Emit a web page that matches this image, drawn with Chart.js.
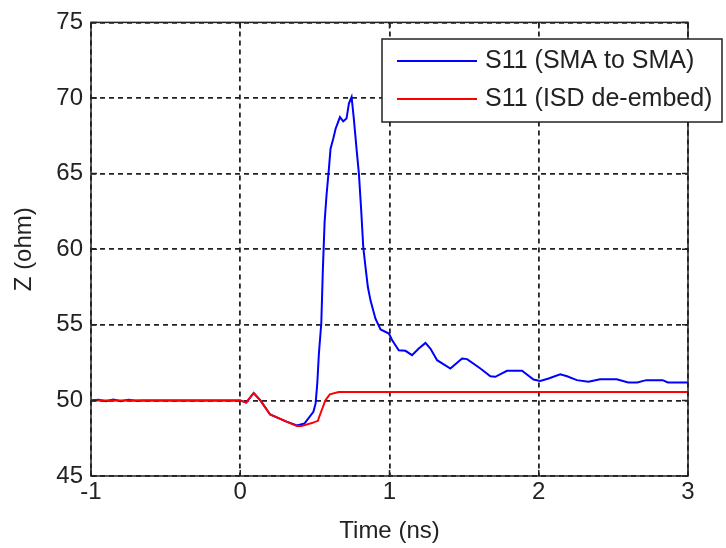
<!DOCTYPE html>
<html>
<head>
<meta charset="utf-8">
<script src="https://cdn.jsdelivr.net/npm/chart.js@4/dist/chart.umd.min.js"></script>
<style>
  html, body { margin: 0; padding: 0; background: #fff; }
  canvas { display: block; }
</style>
</head>
<body>
<canvas id="tdr" width="726" height="548"></canvas>
<script>
// TDR impedance profile, time in ns, Z in ohm
const tSma = [-1, -0.95, -0.9, -0.85, -0.8, -0.75, -0.7, -0.65, 0, 0.04, 0.09, 0.135, 0.2, 0.31, 0.38, 0.43,
  0.49, 0.505, 0.516, 0.527, 0.543, 0.553, 0.565, 0.578, 0.594, 0.605, 0.623, 0.639, 0.668, 0.69, 0.712,
  0.728, 0.746, 0.761, 0.779, 0.795, 0.811, 0.824, 0.839, 0.855, 0.873, 0.906, 0.94, 0.996, 1.018, 1.062,
  1.107, 1.151, 1.196, 1.241, 1.274, 1.319, 1.408, 1.486, 1.52, 1.609, 1.676, 1.709, 1.787, 1.888, 1.965,
  2.01, 2.066, 2.144, 2.19, 2.255, 2.333, 2.411, 2.522, 2.6, 2.66, 2.72, 2.83, 2.865, 3.0];
const zSma = [50.0, 50.05, 49.95, 50.05, 49.95, 50.05, 49.97, 50.0, 50.0, 49.85, 50.49, 50.0, 49.07, 48.6, 48.35, 48.47,
  49.25, 49.8, 51.1, 53.1, 55.1, 58.5, 61.76, 63.57, 65.33, 66.65, 67.31, 67.97, 68.74, 68.46, 68.64,
  69.63, 70.06, 68.64, 66.65, 65.0, 62.46, 60.15, 58.83, 57.5, 56.6, 55.4, 54.69, 54.42, 53.98, 53.32,
  53.28, 52.99, 53.43, 53.8, 53.43, 52.66, 52.11, 52.77, 52.73, 52.11, 51.6, 51.56, 51.96, 51.96, 51.38,
  51.29, 51.45, 51.72, 51.6, 51.34, 51.23, 51.4, 51.4, 51.19, 51.19, 51.34, 51.34, 51.19, 51.19];

const tIsd = [-1, 0, 0.04, 0.09, 0.135, 0.2, 0.31, 0.38, 0.41, 0.48, 0.52, 0.54, 0.57, 0.6, 0.66, 3.0];
const zIsd = [50.0, 50.0, 49.85, 50.49, 50.0, 49.07, 48.6, 48.3, 48.3, 48.5, 48.65, 49.2, 50.0, 50.4, 50.55, 50.55];

const seriesNames = ['S11 (SMA to SMA)', 'S11 (ISD de-embed)'];
const seriesColors = ['#0000ff', '#ff0000'];
const xTicks = [-1, 0, 1, 2, 3];
const yTicks = [45, 50, 55, 60, 65, 70, 75];

const FONT = '"Liberation Sans", Arial, Helvetica, sans-serif';
const INK = '#222';

function pts(xs, ys) {
  return xs.map((x, i) => ({ x: x, y: ys[i] }));
}

// axes box, inward tick marks and the legend, drawn over the data
const matlabFrame = {
  id: 'matlabFrame',
  afterDraw(chart) {
    const { ctx, chartArea: a, scales } = chart;
    const tl = 6;
    ctx.save();
    ctx.strokeStyle = INK;
    ctx.lineWidth = 1.5;
    ctx.beginPath();
    xTicks.forEach(v => {
      const x = scales.x.getPixelForValue(v);
      ctx.moveTo(x, a.bottom); ctx.lineTo(x, a.bottom - tl);
      ctx.moveTo(x, a.top); ctx.lineTo(x, a.top + tl);
    });
    yTicks.forEach(v => {
      const y = scales.y.getPixelForValue(v);
      ctx.moveTo(a.left, y); ctx.lineTo(a.left + tl, y);
      ctx.moveTo(a.right, y); ctx.lineTo(a.right - tl, y);
    });
    ctx.stroke();
    ctx.strokeRect(a.left, a.top, a.right - a.left, a.bottom - a.top);

    // legend
    const bx = 382, by = 39, bw = 340, bh = 83;
    ctx.fillStyle = '#fff';
    ctx.fillRect(bx, by, bw, bh);
    ctx.strokeRect(bx, by, bw, bh);
    ctx.font = '25px ' + FONT;
    ctx.textBaseline = 'alphabetic';
    ctx.textAlign = 'left';
    seriesNames.forEach((name, i) => {
      const ly = 61 + i * 38;
      ctx.strokeStyle = seriesColors[i];
      ctx.lineWidth = 2;
      ctx.beginPath();
      ctx.moveTo(397, ly);
      ctx.lineTo(477, ly);
      ctx.stroke();
      ctx.fillStyle = INK;
      ctx.fillText(name, 485, ly + 7);
    });
    ctx.restore();
  }
};

new Chart(document.getElementById('tdr'), {
  type: 'line',
  data: {
    datasets: [
      {
        label: seriesNames[0],
        data: pts(tSma, zSma),
        borderColor: seriesColors[0],
        borderWidth: 2,
        pointRadius: 0,
        tension: 0,
        order: 1
      },
      {
        label: seriesNames[1],
        data: pts(tIsd, zIsd),
        borderColor: seriesColors[1],
        borderWidth: 2,
        pointRadius: 0,
        tension: 0,
        order: 0
      }
    ]
  },
  options: {
    responsive: false,
    animation: false,
    layout: { padding: { top: 22, right: 38, left: 0, bottom: 0 } },
    plugins: {
      legend: { display: false },
      tooltip: { enabled: false }
    },
    scales: {
      x: {
        type: 'linear',
        min: -1,
        max: 3,
        afterBuildTicks: s => { s.ticks = xTicks.map(v => ({ value: v })); },
        afterFit: s => { s.height = 72; },
        ticks: {
          color: INK,
          font: { family: FONT, size: 24 },
          padding: 2,
          maxRotation: 0
        },
        grid: { color: INK, lineWidth: 1.8, drawTicks: false },
        border: { display: false, dash: [5, 4] },
        title: {
          display: true,
          text: 'Time (ns)',
          color: INK,
          font: { family: FONT, size: 24 },
          padding: { top: 0, bottom: 2 }
        }
      },
      y: {
        min: 45,
        max: 75,
        afterBuildTicks: s => { s.ticks = yTicks.map(v => ({ value: v })); },
        afterFit: s => { s.width = 91; },
        ticks: {
          color: INK,
          font: { family: FONT, size: 24 },
          padding: 8
        },
        grid: { color: INK, lineWidth: 1.8, drawTicks: false },
        border: { display: false, dash: [5, 4] },
        title: {
          display: true,
          text: 'Z (ohm)',
          color: INK,
          font: { family: FONT, size: 24 },
          padding: { top: 10, bottom: 0 }
        }
      }
    }
  },
  plugins: [matlabFrame]
});
</script>
</body>
</html>
